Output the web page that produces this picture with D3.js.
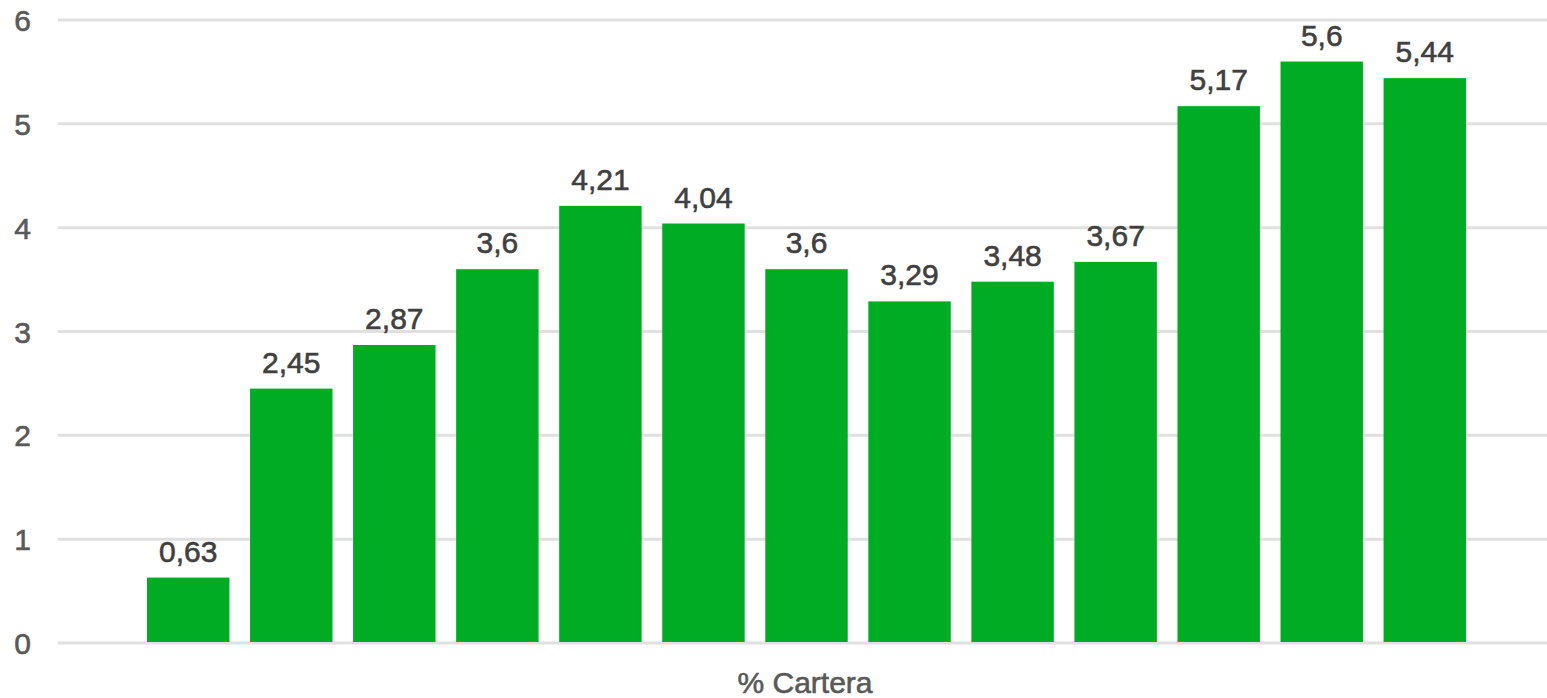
<!DOCTYPE html>
<html>
<head>
<meta charset="utf-8">
<script src="https://cdn.jsdelivr.net/npm/d3@7"></script>
<style>
  html, body { margin: 0; padding: 0; background: #fff; }
  svg { display: block; }
  text { font-family: "Liberation Sans", Arial, sans-serif; }
</style>
</head>
<body>
<svg id="chart" width="1547" height="698"></svg>
<script>
// Portfolio share by period (% Cartera)
const series = ["s1", "s2", "s3", "s4", "s5", "s6", "s7", "s8", "s9", "s10", "s11", "s12", "s13"];
const values = [0.63, 2.45, 2.87, 3.6, 4.21, 4.04, 3.6, 3.29, 3.48, 3.67, 5.17, 5.6, 5.44];
const yTicks = [0, 1, 2, 3, 4, 5, 6];
const categoryLabel = "% Cartera";

const svg = d3.select("#chart");
const W = 1547, H = 698;

const fmt = v => String(v).replace(".", ",");

const y = d3.scaleLinear().domain([0, 6]).range([643, 20]);
const x = d3.scaleBand().domain(series).range([147, 1466]).paddingInner(0.2).paddingOuter(0);

// horizontal gridlines
svg.append("g")
  .selectAll("line")
  .data(yTicks)
  .join("line")
  .attr("x1", 58).attr("x2", W)
  .attr("y1", d => y(d)).attr("y2", d => y(d))
  .attr("stroke", "#e0e0e0")
  .attr("stroke-width", 3);

// y tick labels
svg.append("g")
  .selectAll("text")
  .data(yTicks)
  .join("text")
  .attr("x", 31)
  .attr("y", d => y(d) + 11)
  .attr("text-anchor", "end")
  .attr("font-size", 30)
  .attr("fill", "#595959")
  .attr("stroke", "#595959").attr("stroke-width", 0.6)
  .text(d => d);

// bars
svg.append("g")
  .selectAll("rect")
  .data(values)
  .join("rect")
  .attr("x", (d, i) => x(series[i]))
  .attr("width", x.bandwidth())
  .attr("y", d => y(d))
  .attr("height", d => y(0) - y(d) - 1)
  .attr("fill", "#00ac24");

// value labels
svg.append("g")
  .selectAll("text")
  .data(values)
  .join("text")
  .attr("x", (d, i) => x(series[i]) + x.bandwidth() / 2)
  .attr("y", d => y(d) - 16)
  .attr("text-anchor", "middle")
  .attr("font-size", 30)
  .attr("fill", "#404040")
  .attr("stroke", "#404040").attr("stroke-width", 0.6)
  .text(d => fmt(d));

// category label
svg.append("text")
  .attr("x", 805)
  .attr("y", 693)
  .attr("text-anchor", "middle")
  .attr("font-size", 30)
  .attr("fill", "#595959")
  .attr("stroke", "#595959").attr("stroke-width", 0.6)
  .text(categoryLabel);
</script>
</body>
</html>
